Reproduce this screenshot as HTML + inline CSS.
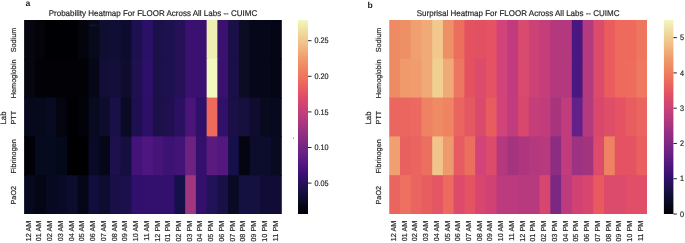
<!DOCTYPE html>
<html><head><meta charset="utf-8"><style>
html,body{margin:0;padding:0;background:#fff;}
body{width:685px;height:243px;overflow:hidden;font-family:"Liberation Sans", sans-serif;}
svg{display:block;will-change:transform;text-rendering:geometricPrecision;} svg text{stroke:#262626;stroke-width:0.18px;}
</style></head><body>
<svg width="685" height="243" viewBox="0 0 685 243" font-family='"Liberation Sans", sans-serif'>
<defs><linearGradient id="g1" x1="0" y1="0" x2="0" y2="1"><stop offset="0.0000" stop-color="#f0f8be"/><stop offset="0.0250" stop-color="#f0ecb1"/><stop offset="0.0500" stop-color="#f0e1a5"/><stop offset="0.0750" stop-color="#f0d598"/><stop offset="0.1000" stop-color="#f0ca8f"/><stop offset="0.1250" stop-color="#f1bf86"/><stop offset="0.1500" stop-color="#f0b27d"/><stop offset="0.1750" stop-color="#f0a775"/><stop offset="0.2000" stop-color="#ef9a6d"/><stop offset="0.2250" stop-color="#ef9067"/><stop offset="0.2500" stop-color="#ef8662"/><stop offset="0.2750" stop-color="#f07b5f"/><stop offset="0.3000" stop-color="#ef725d"/><stop offset="0.3250" stop-color="#ec665e"/><stop offset="0.3500" stop-color="#e95d60"/><stop offset="0.3750" stop-color="#e45464"/><stop offset="0.4000" stop-color="#dd4c6a"/><stop offset="0.4250" stop-color="#d64770"/><stop offset="0.4500" stop-color="#cd4276"/><stop offset="0.4750" stop-color="#c43e7a"/><stop offset="0.5000" stop-color="#ba3a7d"/><stop offset="0.5250" stop-color="#ae3680"/><stop offset="0.5500" stop-color="#a33381"/><stop offset="0.5750" stop-color="#973082"/><stop offset="0.6000" stop-color="#8c2d83"/><stop offset="0.6250" stop-color="#822a83"/><stop offset="0.6500" stop-color="#772683"/><stop offset="0.6750" stop-color="#6d2383"/><stop offset="0.7000" stop-color="#631e83"/><stop offset="0.7250" stop-color="#5a1a82"/><stop offset="0.7500" stop-color="#50167f"/><stop offset="0.7750" stop-color="#441279"/><stop offset="0.8000" stop-color="#391071"/><stop offset="0.8250" stop-color="#2c1164"/><stop offset="0.8500" stop-color="#221155"/><stop offset="0.8750" stop-color="#1a1147"/><stop offset="0.9000" stop-color="#120e37"/><stop offset="0.9250" stop-color="#0c0c2a"/><stop offset="0.9500" stop-color="#06071b"/><stop offset="0.9750" stop-color="#03040f"/><stop offset="1.0000" stop-color="#010205"/></linearGradient></defs>
<rect width="685" height="243" fill="#fff"/>
<rect x="24.10" y="20.00" width="11.74" height="39.80" fill="#05060f"/>
<rect x="34.84" y="20.00" width="11.74" height="39.80" fill="#030308"/>
<rect x="45.58" y="20.00" width="11.74" height="39.80" fill="#000004"/>
<rect x="56.31" y="20.00" width="11.74" height="39.80" fill="#000004"/>
<rect x="67.05" y="20.00" width="11.74" height="39.80" fill="#000004"/>
<rect x="77.79" y="20.00" width="11.74" height="39.80" fill="#03040c"/>
<rect x="88.53" y="20.00" width="11.74" height="39.80" fill="#070a1a"/>
<rect x="99.26" y="20.00" width="11.74" height="39.80" fill="#0f0d30"/>
<rect x="110.00" y="20.00" width="11.74" height="39.80" fill="#110e35"/>
<rect x="120.74" y="20.00" width="11.74" height="39.80" fill="#0e0c2e"/>
<rect x="131.47" y="20.00" width="11.74" height="39.80" fill="#1c1050"/>
<rect x="142.21" y="20.00" width="11.74" height="39.80" fill="#2b1068"/>
<rect x="152.95" y="20.00" width="11.74" height="39.80" fill="#1c1048"/>
<rect x="163.69" y="20.00" width="11.74" height="39.80" fill="#1e1150"/>
<rect x="174.42" y="20.00" width="11.74" height="39.80" fill="#261058"/>
<rect x="185.16" y="20.00" width="11.74" height="39.80" fill="#3a1070"/>
<rect x="195.90" y="20.00" width="11.74" height="39.80" fill="#3a1070"/>
<rect x="206.64" y="20.00" width="11.74" height="39.80" fill="#efefb4"/>
<rect x="217.37" y="20.00" width="11.74" height="39.80" fill="#3a1070"/>
<rect x="228.11" y="20.00" width="11.74" height="39.80" fill="#1a1048"/>
<rect x="238.85" y="20.00" width="11.74" height="39.80" fill="#0c0c25"/>
<rect x="249.59" y="20.00" width="11.74" height="39.80" fill="#06081a"/>
<rect x="260.32" y="20.00" width="11.74" height="39.80" fill="#06081a"/>
<rect x="271.06" y="20.00" width="10.74" height="39.80" fill="#050615"/>
<rect x="24.10" y="58.80" width="11.74" height="39.80" fill="#05060f"/>
<rect x="34.84" y="58.80" width="11.74" height="39.80" fill="#020206"/>
<rect x="45.58" y="58.80" width="11.74" height="39.80" fill="#020206"/>
<rect x="56.31" y="58.80" width="11.74" height="39.80" fill="#020206"/>
<rect x="67.05" y="58.80" width="11.74" height="39.80" fill="#020206"/>
<rect x="77.79" y="58.80" width="11.74" height="39.80" fill="#020206"/>
<rect x="88.53" y="58.80" width="11.74" height="39.80" fill="#060818"/>
<rect x="99.26" y="58.80" width="11.74" height="39.80" fill="#120e38"/>
<rect x="110.00" y="58.80" width="11.74" height="39.80" fill="#130f3a"/>
<rect x="120.74" y="58.80" width="11.74" height="39.80" fill="#0f0c2e"/>
<rect x="131.47" y="58.80" width="11.74" height="39.80" fill="#1f1050"/>
<rect x="142.21" y="58.80" width="11.74" height="39.80" fill="#2c106a"/>
<rect x="152.95" y="58.80" width="11.74" height="39.80" fill="#1c1048"/>
<rect x="163.69" y="58.80" width="11.74" height="39.80" fill="#1e1150"/>
<rect x="174.42" y="58.80" width="11.74" height="39.80" fill="#261058"/>
<rect x="185.16" y="58.80" width="11.74" height="39.80" fill="#3a1070"/>
<rect x="195.90" y="58.80" width="11.74" height="39.80" fill="#3a1070"/>
<rect x="206.64" y="58.80" width="11.74" height="39.80" fill="#f2f8bf"/>
<rect x="217.37" y="58.80" width="11.74" height="39.80" fill="#3a1070"/>
<rect x="228.11" y="58.80" width="11.74" height="39.80" fill="#1a1048"/>
<rect x="238.85" y="58.80" width="11.74" height="39.80" fill="#0c0c25"/>
<rect x="249.59" y="58.80" width="11.74" height="39.80" fill="#06081a"/>
<rect x="260.32" y="58.80" width="11.74" height="39.80" fill="#06081a"/>
<rect x="271.06" y="58.80" width="10.74" height="39.80" fill="#050615"/>
<rect x="24.10" y="97.60" width="11.74" height="39.80" fill="#06081c"/>
<rect x="34.84" y="97.60" width="11.74" height="39.80" fill="#06081c"/>
<rect x="45.58" y="97.60" width="11.74" height="39.80" fill="#080a22"/>
<rect x="56.31" y="97.60" width="11.74" height="39.80" fill="#03040e"/>
<rect x="67.05" y="97.60" width="11.74" height="39.80" fill="#010105"/>
<rect x="77.79" y="97.60" width="11.74" height="39.80" fill="#020308"/>
<rect x="88.53" y="97.60" width="11.74" height="39.80" fill="#080a20"/>
<rect x="99.26" y="97.60" width="11.74" height="39.80" fill="#0d0c2c"/>
<rect x="110.00" y="97.60" width="11.74" height="39.80" fill="#1a1048"/>
<rect x="120.74" y="97.60" width="11.74" height="39.80" fill="#0a0a24"/>
<rect x="131.47" y="97.60" width="11.74" height="39.80" fill="#1e1050"/>
<rect x="142.21" y="97.60" width="11.74" height="39.80" fill="#2c1068"/>
<rect x="152.95" y="97.60" width="11.74" height="39.80" fill="#1c1048"/>
<rect x="163.69" y="97.60" width="11.74" height="39.80" fill="#201050"/>
<rect x="174.42" y="97.60" width="11.74" height="39.80" fill="#2a1060"/>
<rect x="185.16" y="97.60" width="11.74" height="39.80" fill="#4a1478"/>
<rect x="195.90" y="97.60" width="11.74" height="39.80" fill="#2e1068"/>
<rect x="206.64" y="97.60" width="11.74" height="39.80" fill="#ee6a5c"/>
<rect x="217.37" y="97.60" width="11.74" height="39.80" fill="#301068"/>
<rect x="228.11" y="97.60" width="11.74" height="39.80" fill="#1a1045"/>
<rect x="238.85" y="97.60" width="11.74" height="39.80" fill="#16103e"/>
<rect x="249.59" y="97.60" width="11.74" height="39.80" fill="#0f0c30"/>
<rect x="260.32" y="97.60" width="11.74" height="39.80" fill="#080a1e"/>
<rect x="271.06" y="97.60" width="10.74" height="39.80" fill="#070a1e"/>
<rect x="24.10" y="136.40" width="11.74" height="39.80" fill="#010107"/>
<rect x="34.84" y="136.40" width="11.74" height="39.80" fill="#050a1e"/>
<rect x="45.58" y="136.40" width="11.74" height="39.80" fill="#050a1e"/>
<rect x="56.31" y="136.40" width="11.74" height="39.80" fill="#050818"/>
<rect x="67.05" y="136.40" width="11.74" height="39.80" fill="#000003"/>
<rect x="77.79" y="136.40" width="11.74" height="39.80" fill="#000003"/>
<rect x="88.53" y="136.40" width="11.74" height="39.80" fill="#0a0a26"/>
<rect x="99.26" y="136.40" width="11.74" height="39.80" fill="#050718"/>
<rect x="110.00" y="136.40" width="11.74" height="39.80" fill="#1e104d"/>
<rect x="120.74" y="136.40" width="11.74" height="39.80" fill="#140f3e"/>
<rect x="131.47" y="136.40" width="11.74" height="39.80" fill="#44137a"/>
<rect x="142.21" y="136.40" width="11.74" height="39.80" fill="#4e1680"/>
<rect x="152.95" y="136.40" width="11.74" height="39.80" fill="#441478"/>
<rect x="163.69" y="136.40" width="11.74" height="39.80" fill="#3c1272"/>
<rect x="174.42" y="136.40" width="11.74" height="39.80" fill="#421478"/>
<rect x="185.16" y="136.40" width="11.74" height="39.80" fill="#6e2280"/>
<rect x="195.90" y="136.40" width="11.74" height="39.80" fill="#34106c"/>
<rect x="206.64" y="136.40" width="11.74" height="39.80" fill="#5a1a7e"/>
<rect x="217.37" y="136.40" width="11.74" height="39.80" fill="#521880"/>
<rect x="228.11" y="136.40" width="11.74" height="39.80" fill="#16104a"/>
<rect x="238.85" y="136.40" width="11.74" height="39.80" fill="#040510"/>
<rect x="249.59" y="136.40" width="11.74" height="39.80" fill="#0c0c2c"/>
<rect x="260.32" y="136.40" width="11.74" height="39.80" fill="#0c0c2c"/>
<rect x="271.06" y="136.40" width="10.74" height="39.80" fill="#080a20"/>
<rect x="24.10" y="175.20" width="11.74" height="38.80" fill="#06081e"/>
<rect x="34.84" y="175.20" width="11.74" height="38.80" fill="#040614"/>
<rect x="45.58" y="175.20" width="11.74" height="38.80" fill="#070920"/>
<rect x="56.31" y="175.20" width="11.74" height="38.80" fill="#0a0a28"/>
<rect x="67.05" y="175.20" width="11.74" height="38.80" fill="#0c0c2c"/>
<rect x="77.79" y="175.20" width="11.74" height="38.80" fill="#050718"/>
<rect x="88.53" y="175.20" width="11.74" height="38.80" fill="#120e3c"/>
<rect x="99.26" y="175.20" width="11.74" height="38.80" fill="#0e0c30"/>
<rect x="110.00" y="175.20" width="11.74" height="38.80" fill="#1a1048"/>
<rect x="120.74" y="175.20" width="11.74" height="38.80" fill="#1c104c"/>
<rect x="131.47" y="175.20" width="11.74" height="38.80" fill="#30106c"/>
<rect x="142.21" y="175.20" width="11.74" height="38.80" fill="#34106e"/>
<rect x="152.95" y="175.20" width="11.74" height="38.80" fill="#34106e"/>
<rect x="163.69" y="175.20" width="11.74" height="38.80" fill="#34106e"/>
<rect x="174.42" y="175.20" width="11.74" height="38.80" fill="#16104a"/>
<rect x="185.16" y="175.20" width="11.74" height="38.80" fill="#a0367e"/>
<rect x="195.90" y="175.20" width="11.74" height="38.80" fill="#32106c"/>
<rect x="206.64" y="175.20" width="11.74" height="38.80" fill="#221258"/>
<rect x="217.37" y="175.20" width="11.74" height="38.80" fill="#1a1048"/>
<rect x="228.11" y="175.20" width="11.74" height="38.80" fill="#0a0a24"/>
<rect x="238.85" y="175.20" width="11.74" height="38.80" fill="#141040"/>
<rect x="249.59" y="175.20" width="11.74" height="38.80" fill="#141040"/>
<rect x="260.32" y="175.20" width="11.74" height="38.80" fill="#100c36"/>
<rect x="271.06" y="175.20" width="10.74" height="38.80" fill="#100c36"/>
<rect x="389.25" y="20.00" width="11.74" height="39.80" fill="#ee8a64"/>
<rect x="399.99" y="20.00" width="11.74" height="39.80" fill="#ee9066"/>
<rect x="410.73" y="20.00" width="11.74" height="39.80" fill="#f0a070"/>
<rect x="421.47" y="20.00" width="11.74" height="39.80" fill="#f0aa78"/>
<rect x="432.21" y="20.00" width="11.74" height="39.80" fill="#f2c88e"/>
<rect x="442.95" y="20.00" width="11.74" height="39.80" fill="#ee9066"/>
<rect x="453.69" y="20.00" width="11.74" height="39.80" fill="#ec6e5c"/>
<rect x="464.43" y="20.00" width="11.74" height="39.80" fill="#e45262"/>
<rect x="475.17" y="20.00" width="11.74" height="39.80" fill="#e25064"/>
<rect x="485.91" y="20.00" width="11.74" height="39.80" fill="#e45264"/>
<rect x="496.65" y="20.00" width="11.74" height="39.80" fill="#d2437a"/>
<rect x="507.39" y="20.00" width="11.74" height="39.80" fill="#c23a7e"/>
<rect x="518.12" y="20.00" width="11.74" height="39.80" fill="#d84a6e"/>
<rect x="528.86" y="20.00" width="11.74" height="39.80" fill="#cc4276"/>
<rect x="539.60" y="20.00" width="11.74" height="39.80" fill="#c43e7a"/>
<rect x="550.34" y="20.00" width="11.74" height="39.80" fill="#b4387e"/>
<rect x="561.08" y="20.00" width="11.74" height="39.80" fill="#b4387e"/>
<rect x="571.82" y="20.00" width="11.74" height="39.80" fill="#4a1680"/>
<rect x="582.56" y="20.00" width="11.74" height="39.80" fill="#b43a80"/>
<rect x="593.30" y="20.00" width="11.74" height="39.80" fill="#dc4a6c"/>
<rect x="604.04" y="20.00" width="11.74" height="39.80" fill="#ea5c5e"/>
<rect x="614.78" y="20.00" width="11.74" height="39.80" fill="#ee6a5c"/>
<rect x="625.52" y="20.00" width="11.74" height="39.80" fill="#ee6a5c"/>
<rect x="636.26" y="20.00" width="10.74" height="39.80" fill="#ee765e"/>
<rect x="389.25" y="58.80" width="11.74" height="39.80" fill="#ee8a64"/>
<rect x="399.99" y="58.80" width="11.74" height="39.80" fill="#f09a6c"/>
<rect x="410.73" y="58.80" width="11.74" height="39.80" fill="#f09c6e"/>
<rect x="421.47" y="58.80" width="11.74" height="39.80" fill="#f0aa78"/>
<rect x="432.21" y="58.80" width="11.74" height="39.80" fill="#f0d090"/>
<rect x="442.95" y="58.80" width="11.74" height="39.80" fill="#f0aa78"/>
<rect x="453.69" y="58.80" width="11.74" height="39.80" fill="#ec7660"/>
<rect x="464.43" y="58.80" width="11.74" height="39.80" fill="#e45262"/>
<rect x="475.17" y="58.80" width="11.74" height="39.80" fill="#dc4a6c"/>
<rect x="485.91" y="58.80" width="11.74" height="39.80" fill="#e45264"/>
<rect x="496.65" y="58.80" width="11.74" height="39.80" fill="#d2437a"/>
<rect x="507.39" y="58.80" width="11.74" height="39.80" fill="#c23a7e"/>
<rect x="518.12" y="58.80" width="11.74" height="39.80" fill="#d84a6e"/>
<rect x="528.86" y="58.80" width="11.74" height="39.80" fill="#cc4276"/>
<rect x="539.60" y="58.80" width="11.74" height="39.80" fill="#c43e7a"/>
<rect x="550.34" y="58.80" width="11.74" height="39.80" fill="#b4387e"/>
<rect x="561.08" y="58.80" width="11.74" height="39.80" fill="#b4387e"/>
<rect x="571.82" y="58.80" width="11.74" height="39.80" fill="#4a1680"/>
<rect x="582.56" y="58.80" width="11.74" height="39.80" fill="#b43a80"/>
<rect x="593.30" y="58.80" width="11.74" height="39.80" fill="#dc4a6c"/>
<rect x="604.04" y="58.80" width="11.74" height="39.80" fill="#ea5c5e"/>
<rect x="614.78" y="58.80" width="11.74" height="39.80" fill="#ee6a5c"/>
<rect x="625.52" y="58.80" width="11.74" height="39.80" fill="#ee6c5c"/>
<rect x="636.26" y="58.80" width="10.74" height="39.80" fill="#ee7860"/>
<rect x="389.25" y="97.60" width="11.74" height="39.80" fill="#ec6660"/>
<rect x="399.99" y="97.60" width="11.74" height="39.80" fill="#ec6660"/>
<rect x="410.73" y="97.60" width="11.74" height="39.80" fill="#ec6860"/>
<rect x="421.47" y="97.60" width="11.74" height="39.80" fill="#ee8262"/>
<rect x="432.21" y="97.60" width="11.74" height="39.80" fill="#ee8a64"/>
<rect x="442.95" y="97.60" width="11.74" height="39.80" fill="#ee8462"/>
<rect x="453.69" y="97.60" width="11.74" height="39.80" fill="#ea6460"/>
<rect x="464.43" y="97.60" width="11.74" height="39.80" fill="#e45864"/>
<rect x="475.17" y="97.60" width="11.74" height="39.80" fill="#da4a6c"/>
<rect x="485.91" y="97.60" width="11.74" height="39.80" fill="#e85c60"/>
<rect x="496.65" y="97.60" width="11.74" height="39.80" fill="#d2437a"/>
<rect x="507.39" y="97.60" width="11.74" height="39.80" fill="#c03c7e"/>
<rect x="518.12" y="97.60" width="11.74" height="39.80" fill="#d8486e"/>
<rect x="528.86" y="97.60" width="11.74" height="39.80" fill="#c43e7a"/>
<rect x="539.60" y="97.60" width="11.74" height="39.80" fill="#c23c7c"/>
<rect x="550.34" y="97.60" width="11.74" height="39.80" fill="#a8347e"/>
<rect x="561.08" y="97.60" width="11.74" height="39.80" fill="#c03c7c"/>
<rect x="571.82" y="97.60" width="11.74" height="39.80" fill="#622088"/>
<rect x="582.56" y="97.60" width="11.74" height="39.80" fill="#b43a80"/>
<rect x="593.30" y="97.60" width="11.74" height="39.80" fill="#d8486c"/>
<rect x="604.04" y="97.60" width="11.74" height="39.80" fill="#de4e68"/>
<rect x="614.78" y="97.60" width="11.74" height="39.80" fill="#e45264"/>
<rect x="625.52" y="97.60" width="11.74" height="39.80" fill="#e85e60"/>
<rect x="636.26" y="97.60" width="10.74" height="39.80" fill="#ea6460"/>
<rect x="389.25" y="136.40" width="11.74" height="39.80" fill="#f0a070"/>
<rect x="399.99" y="136.40" width="11.74" height="39.80" fill="#e86060"/>
<rect x="410.73" y="136.40" width="11.74" height="39.80" fill="#ea6460"/>
<rect x="421.47" y="136.40" width="11.74" height="39.80" fill="#ec7060"/>
<rect x="432.21" y="136.40" width="11.74" height="39.80" fill="#f0c48a"/>
<rect x="442.95" y="136.40" width="11.74" height="39.80" fill="#ee9a6c"/>
<rect x="453.69" y="136.40" width="11.74" height="39.80" fill="#e65c62"/>
<rect x="464.43" y="136.40" width="11.74" height="39.80" fill="#ec6e5e"/>
<rect x="475.17" y="136.40" width="11.74" height="39.80" fill="#d2437a"/>
<rect x="485.91" y="136.40" width="11.74" height="39.80" fill="#dc4a6c"/>
<rect x="496.65" y="136.40" width="11.74" height="39.80" fill="#b4387e"/>
<rect x="507.39" y="136.40" width="11.74" height="39.80" fill="#a4347e"/>
<rect x="518.12" y="136.40" width="11.74" height="39.80" fill="#ae367e"/>
<rect x="528.86" y="136.40" width="11.74" height="39.80" fill="#b4387e"/>
<rect x="539.60" y="136.40" width="11.74" height="39.80" fill="#b83a7e"/>
<rect x="550.34" y="136.40" width="11.74" height="39.80" fill="#8c2c82"/>
<rect x="561.08" y="136.40" width="11.74" height="39.80" fill="#c03c7a"/>
<rect x="571.82" y="136.40" width="11.74" height="39.80" fill="#9e3282"/>
<rect x="582.56" y="136.40" width="11.74" height="39.80" fill="#a2347e"/>
<rect x="593.30" y="136.40" width="11.74" height="39.80" fill="#dc4a6c"/>
<rect x="604.04" y="136.40" width="11.74" height="39.80" fill="#ee8262"/>
<rect x="614.78" y="136.40" width="11.74" height="39.80" fill="#e45264"/>
<rect x="625.52" y="136.40" width="11.74" height="39.80" fill="#e45264"/>
<rect x="636.26" y="136.40" width="10.74" height="39.80" fill="#ea6060"/>
<rect x="389.25" y="175.20" width="11.74" height="38.80" fill="#ea6460"/>
<rect x="399.99" y="175.20" width="11.74" height="38.80" fill="#ee7060"/>
<rect x="410.73" y="175.20" width="11.74" height="38.80" fill="#ea6460"/>
<rect x="421.47" y="175.20" width="11.74" height="38.80" fill="#e85e60"/>
<rect x="432.21" y="175.20" width="11.74" height="38.80" fill="#e45664"/>
<rect x="442.95" y="175.20" width="11.74" height="38.80" fill="#ec6a5e"/>
<rect x="453.69" y="175.20" width="11.74" height="38.80" fill="#dc4a6c"/>
<rect x="464.43" y="175.20" width="11.74" height="38.80" fill="#e45264"/>
<rect x="475.17" y="175.20" width="11.74" height="38.80" fill="#d84670"/>
<rect x="485.91" y="175.20" width="11.74" height="38.80" fill="#d04274"/>
<rect x="496.65" y="175.20" width="11.74" height="38.80" fill="#bc3a7e"/>
<rect x="507.39" y="175.20" width="11.74" height="38.80" fill="#bc3a7e"/>
<rect x="518.12" y="175.20" width="11.74" height="38.80" fill="#b83a7e"/>
<rect x="528.86" y="175.20" width="11.74" height="38.80" fill="#b83a7e"/>
<rect x="539.60" y="175.20" width="11.74" height="38.80" fill="#d84670"/>
<rect x="550.34" y="175.20" width="11.74" height="38.80" fill="#7a2884"/>
<rect x="561.08" y="175.20" width="11.74" height="38.80" fill="#bc3a7e"/>
<rect x="571.82" y="175.20" width="11.74" height="38.80" fill="#d04274"/>
<rect x="582.56" y="175.20" width="11.74" height="38.80" fill="#d84670"/>
<rect x="593.30" y="175.20" width="11.74" height="38.80" fill="#e85a60"/>
<rect x="604.04" y="175.20" width="11.74" height="38.80" fill="#dc4a6c"/>
<rect x="614.78" y="175.20" width="11.74" height="38.80" fill="#dc4a6c"/>
<rect x="625.52" y="175.20" width="11.74" height="38.80" fill="#e04e68"/>
<rect x="636.26" y="175.20" width="10.74" height="38.80" fill="#e04e68"/>
<text x="0" y="0" font-size="8.0" text-anchor="middle" fill="#262626" transform="translate(152.95 16.1) scale(1 1.04)">Probability Heatmap For FLOOR Across All Labs -- CUIMC</text>
<text x="16.10" y="40.00" font-size="7.25" text-anchor="middle" fill="#262626" transform="rotate(-90 16.10 40.00)">Sodium</text>
<text x="16.10" y="78.80" font-size="7.25" text-anchor="middle" fill="#262626" transform="rotate(-90 16.10 78.80)">Hemoglobin</text>
<text x="16.10" y="117.60" font-size="7.25" text-anchor="middle" fill="#262626" transform="rotate(-90 16.10 117.60)">PTT</text>
<text x="16.10" y="156.40" font-size="7.25" text-anchor="middle" fill="#262626" transform="rotate(-90 16.10 156.40)">Fibrinogen</text>
<text x="16.10" y="195.20" font-size="7.25" text-anchor="middle" fill="#262626" transform="rotate(-90 16.10 195.20)">PaO2</text>
<text x="6.30" y="118" font-size="7.8" text-anchor="middle" fill="#262626" transform="rotate(-90 6.30 118)">Lab</text>
<text x="30.67" y="220.7" font-size="7.25" text-anchor="end" fill="#262626" transform="rotate(-90 30.67 220.7)">12 AM</text>
<text x="41.41" y="220.7" font-size="7.25" text-anchor="end" fill="#262626" transform="rotate(-90 41.41 220.7)">01 AM</text>
<text x="52.14" y="220.7" font-size="7.25" text-anchor="end" fill="#262626" transform="rotate(-90 52.14 220.7)">02 AM</text>
<text x="62.88" y="220.7" font-size="7.25" text-anchor="end" fill="#262626" transform="rotate(-90 62.88 220.7)">03 AM</text>
<text x="73.62" y="220.7" font-size="7.25" text-anchor="end" fill="#262626" transform="rotate(-90 73.62 220.7)">04 AM</text>
<text x="84.36" y="220.7" font-size="7.25" text-anchor="end" fill="#262626" transform="rotate(-90 84.36 220.7)">05 AM</text>
<text x="95.09" y="220.7" font-size="7.25" text-anchor="end" fill="#262626" transform="rotate(-90 95.09 220.7)">06 AM</text>
<text x="105.83" y="220.7" font-size="7.25" text-anchor="end" fill="#262626" transform="rotate(-90 105.83 220.7)">07 AM</text>
<text x="116.57" y="220.7" font-size="7.25" text-anchor="end" fill="#262626" transform="rotate(-90 116.57 220.7)">08 AM</text>
<text x="127.31" y="220.7" font-size="7.25" text-anchor="end" fill="#262626" transform="rotate(-90 127.31 220.7)">09 AM</text>
<text x="138.04" y="220.7" font-size="7.25" text-anchor="end" fill="#262626" transform="rotate(-90 138.04 220.7)">10 AM</text>
<text x="148.78" y="220.7" font-size="7.25" text-anchor="end" fill="#262626" transform="rotate(-90 148.78 220.7)">11 AM</text>
<text x="159.52" y="220.7" font-size="7.25" text-anchor="end" fill="#262626" transform="rotate(-90 159.52 220.7)">12 PM</text>
<text x="170.26" y="220.7" font-size="7.25" text-anchor="end" fill="#262626" transform="rotate(-90 170.26 220.7)">01 PM</text>
<text x="180.99" y="220.7" font-size="7.25" text-anchor="end" fill="#262626" transform="rotate(-90 180.99 220.7)">02 PM</text>
<text x="191.73" y="220.7" font-size="7.25" text-anchor="end" fill="#262626" transform="rotate(-90 191.73 220.7)">03 PM</text>
<text x="202.47" y="220.7" font-size="7.25" text-anchor="end" fill="#262626" transform="rotate(-90 202.47 220.7)">04 PM</text>
<text x="213.21" y="220.7" font-size="7.25" text-anchor="end" fill="#262626" transform="rotate(-90 213.21 220.7)">05 PM</text>
<text x="223.94" y="220.7" font-size="7.25" text-anchor="end" fill="#262626" transform="rotate(-90 223.94 220.7)">06 PM</text>
<text x="234.68" y="220.7" font-size="7.25" text-anchor="end" fill="#262626" transform="rotate(-90 234.68 220.7)">07 PM</text>
<text x="245.42" y="220.7" font-size="7.25" text-anchor="end" fill="#262626" transform="rotate(-90 245.42 220.7)">08 PM</text>
<text x="256.16" y="220.7" font-size="7.25" text-anchor="end" fill="#262626" transform="rotate(-90 256.16 220.7)">09 PM</text>
<text x="266.89" y="220.7" font-size="7.25" text-anchor="end" fill="#262626" transform="rotate(-90 266.89 220.7)">10 PM</text>
<text x="277.63" y="220.7" font-size="7.25" text-anchor="end" fill="#262626" transform="rotate(-90 277.63 220.7)">11 PM</text>
<text x="0" y="0" font-size="8.0" text-anchor="middle" fill="#262626" transform="translate(518.12 16.1) scale(1 1.04)">Surprisal Heatmap For FLOOR Across All Labs -- CUIMC</text>
<text x="381.25" y="40.00" font-size="7.25" text-anchor="middle" fill="#262626" transform="rotate(-90 381.25 40.00)">Sodium</text>
<text x="381.25" y="78.80" font-size="7.25" text-anchor="middle" fill="#262626" transform="rotate(-90 381.25 78.80)">Hemoglobin</text>
<text x="381.25" y="117.60" font-size="7.25" text-anchor="middle" fill="#262626" transform="rotate(-90 381.25 117.60)">PTT</text>
<text x="381.25" y="156.40" font-size="7.25" text-anchor="middle" fill="#262626" transform="rotate(-90 381.25 156.40)">Fibrinogen</text>
<text x="381.25" y="195.20" font-size="7.25" text-anchor="middle" fill="#262626" transform="rotate(-90 381.25 195.20)">PaO2</text>
<text x="371.45" y="118" font-size="7.8" text-anchor="middle" fill="#262626" transform="rotate(-90 371.45 118)">Lab</text>
<text x="395.82" y="220.7" font-size="7.25" text-anchor="end" fill="#262626" transform="rotate(-90 395.82 220.7)">12 AM</text>
<text x="406.56" y="220.7" font-size="7.25" text-anchor="end" fill="#262626" transform="rotate(-90 406.56 220.7)">01 AM</text>
<text x="417.30" y="220.7" font-size="7.25" text-anchor="end" fill="#262626" transform="rotate(-90 417.30 220.7)">02 AM</text>
<text x="428.04" y="220.7" font-size="7.25" text-anchor="end" fill="#262626" transform="rotate(-90 428.04 220.7)">03 AM</text>
<text x="438.78" y="220.7" font-size="7.25" text-anchor="end" fill="#262626" transform="rotate(-90 438.78 220.7)">04 AM</text>
<text x="449.52" y="220.7" font-size="7.25" text-anchor="end" fill="#262626" transform="rotate(-90 449.52 220.7)">05 AM</text>
<text x="460.26" y="220.7" font-size="7.25" text-anchor="end" fill="#262626" transform="rotate(-90 460.26 220.7)">06 AM</text>
<text x="471.00" y="220.7" font-size="7.25" text-anchor="end" fill="#262626" transform="rotate(-90 471.00 220.7)">07 AM</text>
<text x="481.74" y="220.7" font-size="7.25" text-anchor="end" fill="#262626" transform="rotate(-90 481.74 220.7)">08 AM</text>
<text x="492.48" y="220.7" font-size="7.25" text-anchor="end" fill="#262626" transform="rotate(-90 492.48 220.7)">09 AM</text>
<text x="503.22" y="220.7" font-size="7.25" text-anchor="end" fill="#262626" transform="rotate(-90 503.22 220.7)">10 AM</text>
<text x="513.96" y="220.7" font-size="7.25" text-anchor="end" fill="#262626" transform="rotate(-90 513.96 220.7)">11 AM</text>
<text x="524.69" y="220.7" font-size="7.25" text-anchor="end" fill="#262626" transform="rotate(-90 524.69 220.7)">12 PM</text>
<text x="535.43" y="220.7" font-size="7.25" text-anchor="end" fill="#262626" transform="rotate(-90 535.43 220.7)">01 PM</text>
<text x="546.17" y="220.7" font-size="7.25" text-anchor="end" fill="#262626" transform="rotate(-90 546.17 220.7)">02 PM</text>
<text x="556.91" y="220.7" font-size="7.25" text-anchor="end" fill="#262626" transform="rotate(-90 556.91 220.7)">03 PM</text>
<text x="567.65" y="220.7" font-size="7.25" text-anchor="end" fill="#262626" transform="rotate(-90 567.65 220.7)">04 PM</text>
<text x="578.39" y="220.7" font-size="7.25" text-anchor="end" fill="#262626" transform="rotate(-90 578.39 220.7)">05 PM</text>
<text x="589.13" y="220.7" font-size="7.25" text-anchor="end" fill="#262626" transform="rotate(-90 589.13 220.7)">06 PM</text>
<text x="599.87" y="220.7" font-size="7.25" text-anchor="end" fill="#262626" transform="rotate(-90 599.87 220.7)">07 PM</text>
<text x="610.61" y="220.7" font-size="7.25" text-anchor="end" fill="#262626" transform="rotate(-90 610.61 220.7)">08 PM</text>
<text x="621.35" y="220.7" font-size="7.25" text-anchor="end" fill="#262626" transform="rotate(-90 621.35 220.7)">09 PM</text>
<text x="632.09" y="220.7" font-size="7.25" text-anchor="end" fill="#262626" transform="rotate(-90 632.09 220.7)">10 PM</text>
<text x="642.83" y="220.7" font-size="7.25" text-anchor="end" fill="#262626" transform="rotate(-90 642.83 220.7)">11 PM</text>
<rect x="298.0" y="20.0" width="10.0" height="194.0" fill="url(#g1)"/>
<line x1="308.0" y1="40.7" x2="311.5" y2="40.7" stroke="#262626" stroke-width="1"/>
<text x="0" y="0" font-size="7.25" fill="#262626" transform="translate(314.5 43.30) scale(1 1.1)">0.25</text>
<line x1="308.0" y1="76.30000000000001" x2="311.5" y2="76.30000000000001" stroke="#262626" stroke-width="1"/>
<text x="0" y="0" font-size="7.25" fill="#262626" transform="translate(314.5 78.90) scale(1 1.1)">0.20</text>
<line x1="308.0" y1="111.9" x2="311.5" y2="111.9" stroke="#262626" stroke-width="1"/>
<text x="0" y="0" font-size="7.25" fill="#262626" transform="translate(314.5 114.50) scale(1 1.1)">0.15</text>
<line x1="308.0" y1="147.5" x2="311.5" y2="147.5" stroke="#262626" stroke-width="1"/>
<text x="0" y="0" font-size="7.25" fill="#262626" transform="translate(314.5 150.10) scale(1 1.1)">0.10</text>
<line x1="308.0" y1="183.10000000000002" x2="311.5" y2="183.10000000000002" stroke="#262626" stroke-width="1"/>
<text x="0" y="0" font-size="7.25" fill="#262626" transform="translate(314.5 185.70) scale(1 1.1)">0.05</text>
<rect x="663.9" y="20.0" width="9.5" height="194.0" fill="url(#g1)"/>
<line x1="673.4" y1="37.64999999999998" x2="676.9" y2="37.64999999999998" stroke="#262626" stroke-width="1"/>
<text x="0" y="0" font-size="7.25" fill="#262626" transform="translate(679.9 40.25) scale(1 1.1)">5</text>
<line x1="673.4" y1="72.91999999999999" x2="676.9" y2="72.91999999999999" stroke="#262626" stroke-width="1"/>
<text x="0" y="0" font-size="7.25" fill="#262626" transform="translate(679.9 75.52) scale(1 1.1)">4</text>
<line x1="673.4" y1="108.19" x2="676.9" y2="108.19" stroke="#262626" stroke-width="1"/>
<text x="0" y="0" font-size="7.25" fill="#262626" transform="translate(679.9 110.79) scale(1 1.1)">3</text>
<line x1="673.4" y1="143.45999999999998" x2="676.9" y2="143.45999999999998" stroke="#262626" stroke-width="1"/>
<text x="0" y="0" font-size="7.25" fill="#262626" transform="translate(679.9 146.06) scale(1 1.1)">2</text>
<line x1="673.4" y1="178.73" x2="676.9" y2="178.73" stroke="#262626" stroke-width="1"/>
<text x="0" y="0" font-size="7.25" fill="#262626" transform="translate(679.9 181.33) scale(1 1.1)">1</text>
<line x1="673.4" y1="214.0" x2="676.9" y2="214.0" stroke="#262626" stroke-width="1"/>
<text x="0" y="0" font-size="7.25" fill="#262626" transform="translate(679.9 216.60) scale(1 1.1)">0</text>
<text x="25.6" y="6" font-size="8.6" font-weight="bold" fill="#262626" style="stroke:none">a</text>
<text x="367.4" y="8.3" font-size="8.6" font-weight="bold" fill="#262626" style="stroke:none">b</text>
<rect x="293" y="137" width="1" height="2" fill="#bbb"/>
<text x="89.8" y="25.6" font-size="2.4" fill="#ffffff" fill-opacity="0.13" style="stroke:none">Figure 1</text>
</svg>
</body></html>
